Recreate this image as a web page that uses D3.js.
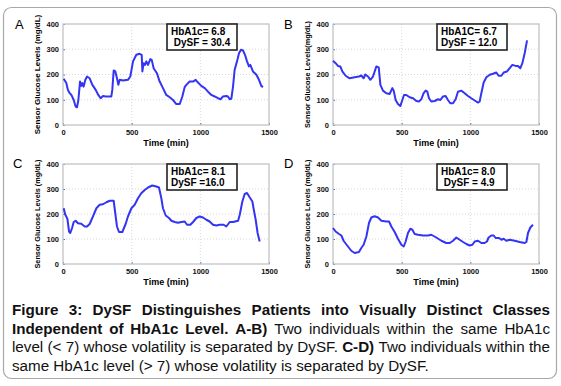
<!DOCTYPE html>
<html>
<head>
<meta charset="utf-8">
<script src="https://cdn.jsdelivr.net/npm/d3@7"></script>
<style>
  body { margin: 0; background: #fff; }
  svg { display: block; font-family: "Liberation Sans", Arial, sans-serif; }
  text { white-space: pre; }
</style>
</head>
<body>
<svg id="chart" width="561" height="386"></svg>
<script>
// glucose traces (time in min, glucose in mg/dL)
var timeA = [5, 24, 36, 49, 61, 78, 92, 102, 112, 124, 133, 141, 150, 163, 175, 194, 214, 238, 257, 274, 291, 311, 352, 359, 369, 381, 393, 403, 413, 437, 473, 490, 510, 534, 558, 573, 578, 587, 597, 607, 619, 636, 646, 660, 684, 704, 728, 752, 777, 801, 825, 850, 869, 886, 898, 922, 947, 966, 983, 1007, 1032, 1056, 1080, 1104, 1129, 1148, 1165, 1189, 1201, 1214, 1226, 1238, 1250, 1267, 1282, 1296, 1311, 1325, 1340, 1354, 1364, 1383, 1408, 1427, 1444, 1456];
var glucoseA = [183, 166, 139, 126, 119, 99, 73, 70, 99, 172, 155, 166, 152, 179, 192, 185, 159, 139, 119, 106, 115, 113, 113, 139, 216, 212, 185, 159, 179, 176, 179, 192, 252, 278, 282, 278, 212, 245, 238, 252, 238, 261, 258, 225, 205, 172, 146, 119, 110, 99, 83, 83, 113, 150, 159, 172, 172, 179, 168, 155, 146, 132, 119, 113, 106, 102, 113, 115, 113, 102, 105, 152, 219, 252, 285, 298, 295, 278, 252, 232, 238, 212, 199, 179, 155, 150];

var timeB = [0, 19, 36, 53, 68, 92, 121, 158, 189, 206, 223, 235, 255, 272, 291, 316, 333, 345, 364, 388, 413, 432, 442, 456, 473, 490, 505, 517, 534, 558, 583, 607, 626, 643, 660, 675, 687, 699, 716, 740, 765, 782, 801, 820, 837, 854, 874, 893, 910, 934, 959, 983, 1007, 1032, 1056, 1068, 1080, 1097, 1117, 1141, 1165, 1189, 1206, 1226, 1243, 1267, 1287, 1306, 1330, 1347, 1364, 1379, 1396, 1413];
var glucoseB = [254, 245, 234, 232, 212, 195, 185, 189, 192, 196, 185, 200, 192, 179, 192, 232, 228, 159, 136, 126, 123, 146, 136, 99, 83, 75, 99, 119, 119, 110, 106, 95, 93, 102, 126, 136, 132, 106, 93, 95, 102, 99, 113, 115, 99, 86, 86, 102, 132, 136, 126, 115, 106, 97, 89, 93, 126, 168, 189, 199, 203, 208, 195, 195, 208, 212, 225, 238, 234, 234, 225, 245, 285, 335];

var timeC = [5, 17, 32, 44, 53, 66, 78, 92, 109, 133, 158, 175, 194, 218, 243, 267, 291, 316, 340, 369, 379, 393, 408, 432, 456, 473, 498, 522, 546, 570, 595, 619, 650, 679, 699, 716, 728, 748, 772, 789, 813, 837, 862, 886, 903, 927, 947, 971, 995, 1019, 1044, 1068, 1092, 1117, 1141, 1170, 1189, 1214, 1238, 1275, 1287, 1306, 1323, 1340, 1359, 1379, 1388, 1403, 1417, 1432];
var glucoseC = [223, 197, 181, 130, 124, 144, 168, 173, 163, 161, 150, 150, 160, 190, 223, 237, 239, 247, 253, 253, 210, 150, 128, 128, 160, 190, 223, 237, 263, 283, 296, 306, 314, 310, 306, 263, 223, 194, 184, 173, 168, 165, 168, 170, 157, 157, 168, 184, 190, 186, 177, 170, 157, 154, 157, 157, 150, 168, 168, 173, 197, 250, 280, 284, 267, 250, 221, 177, 124, 90];

var timeD = [0, 19, 44, 61, 78, 109, 133, 158, 189, 206, 223, 243, 262, 279, 303, 328, 352, 388, 408, 425, 449, 473, 498, 515, 529, 546, 563, 578, 595, 619, 655, 692, 716, 752, 789, 825, 850, 874, 898, 922, 947, 971, 995, 1015, 1032, 1056, 1080, 1104, 1121, 1133, 1153, 1170, 1184, 1209, 1226, 1243, 1262, 1287, 1323, 1359, 1396, 1408, 1420, 1437, 1456];
var glucoseD = [144, 130, 120, 114, 92, 70, 53, 44, 48, 64, 77, 110, 164, 186, 191, 186, 173, 170, 170, 150, 128, 101, 77, 70, 90, 124, 141, 137, 120, 117, 114, 114, 117, 106, 93, 84, 84, 93, 106, 97, 88, 80, 74, 77, 90, 93, 84, 84, 90, 106, 114, 114, 104, 104, 97, 101, 93, 97, 93, 88, 84, 88, 124, 146, 157];

var legendA = ["HbA1c= 6.8", " DySF = 30.4"];
var legendB = ["HbA1C= 6.7", "DySF = 12.0"];
var legendC = ["HbA1c= 8.1", "DySF =16.0"];
var legendD = ["HbA1c= 8.0", " DySF = 4.9"];

var xTicks = [0, 500, 1000, 1500];
var yTicks = [0, 100, 200, 300, 400];

var captionLines = [
    [{ t: "Figure 3: DySF Distinguishes Patients into Visually Distinct Classes", b: true }],
    [{ t: "Independent of HbA1c Level. A-B)", b: true }, { t: "Two individuals within the same HbA1c", b: false }],
    [{ t: "level (< 7) whose volatility is separated by DySF.", b: false }, { t: "C-D)", b: true }, { t: "Two individuals within the", b: false }],
    [{ t: "same HbA1c level (> 7) whose volatility is separated by DySF.", b: false }]
];

var svg = d3.select("#chart");

// outer rounded box
svg.append("rect")
    .attr("x", 3.5).attr("y", 7.5)
    .attr("width", 553).attr("height", 371)
    .attr("rx", 8)
    .attr("fill", "#fff")
    .attr("stroke", "#a8a8a8")
    .attr("stroke-width", 1.2);

// panel layout
var panels = [
    { letter: "A", left: 63, top: 24, w: 206, h: 101, time: timeA, glucose: glucoseA, legend: legendA, ylabel: "Sensor Glucose Levels (mg/dL)", ysize: 8, lx: 15, ly: 29 },
    { letter: "B", left: 333, top: 24, w: 206, h: 101, time: timeB, glucose: glucoseB, legend: legendB, ylabel: "Sensor Glucose Levels(mg/dL)", ysize: 7.3, lx: 284, ly: 29 },
    { letter: "C", left: 63, top: 164, w: 206, h: 100, time: timeC, glucose: glucoseC, legend: legendC, ylabel: "Sensor Glucose Levels (mg/dL)", ysize: 7.3, lx: 13, ly: 168 },
    { letter: "D", left: 333, top: 164, w: 206, h: 100, time: timeD, glucose: glucoseD, legend: legendD, ylabel: "Sensor Glucose Levels (mg/dL)", ysize: 7.3, lx: 284, ly: 168 }
];

panels.forEach(function (p) {
    var x = d3.scaleLinear().domain([0, 1500]).range([p.left, p.left + p.w]);
    var y = d3.scaleLinear().domain([0, 400]).range([p.top + p.h, p.top]);
    var g = svg.append("g");

    // dotted grid
    g.selectAll(".vgrid").data(xTicks.slice(1, -1)).enter().append("line")
        .attr("x1", d => x(d)).attr("x2", d => x(d))
        .attr("y1", p.top).attr("y2", p.top + p.h)
        .attr("stroke", "#d8d8d8").attr("stroke-dasharray", "1,2");
    g.selectAll(".hgrid").data(yTicks.slice(1, -1)).enter().append("line")
        .attr("x1", p.left).attr("x2", p.left + p.w)
        .attr("y1", d => y(d)).attr("y2", d => y(d))
        .attr("stroke", "#d8d8d8").attr("stroke-dasharray", "1,2");

    // axes (labels + small inward ticks)
    var xa = g.append("g").attr("transform", "translate(0," + (p.top + p.h) + ")")
        .call(d3.axisBottom(x).tickValues(xTicks).tickSize(-2).tickPadding(5).tickFormat(d3.format("d")));
    var ya = g.append("g").attr("transform", "translate(" + p.left + ",0)")
        .call(d3.axisLeft(y).tickValues(yTicks).tickSize(-2).tickPadding(4).tickFormat(d3.format("d")));
    [xa, ya].forEach(function (a) {
        a.select(".domain").remove();
        a.selectAll(".tick line").attr("stroke", "#5566cc");
        a.selectAll(".tick text")
            .attr("font-family", "'Liberation Sans', Arial, sans-serif")
            .attr("font-size", 7.5).attr("font-weight", "bold").attr("fill", "#111");
    });

    // frame
    g.append("rect")
        .attr("x", p.left).attr("y", p.top)
        .attr("width", p.w).attr("height", p.h)
        .attr("fill", "none").attr("stroke", "#c4c4c4").attr("stroke-width", 1.3);

    // glucose line
    var pts = p.time.map((t, i) => [t, p.glucose[i]]);
    g.append("path")
        .datum(pts)
        .attr("d", d3.line().x(d => x(d[0])).y(d => y(d[1])))
        .attr("fill", "none")
        .attr("stroke", "#3434f4")
        .attr("stroke-width", 2)
        .attr("stroke-linejoin", "round");

    // axis titles
    g.append("text")
        .attr("x", p.left + p.w / 2).attr("y", p.top + p.h + 21)
        .attr("text-anchor", "middle")
        .attr("font-size", 9).attr("font-weight", "bold")
        .text("Time (min)");
    g.append("text")
        .attr("transform", "translate(" + (p.left - 23.5) + "," + (p.top + p.h / 2) + ") rotate(-90)")
        .attr("text-anchor", "middle")
        .attr("font-size", p.ysize).attr("font-weight", "bold")
        .text(p.ylabel);

    // panel letter
    g.append("text")
        .attr("x", p.lx).attr("y", p.ly)
        .attr("font-size", 13)
        .text(p.letter);

    // legend box
    var bx = p.left + 104, by = p.top;
    g.append("rect")
        .attr("x", bx).attr("y", by)
        .attr("width", 70).attr("height", 26)
        .attr("fill", "#fff").attr("stroke", "#222").attr("stroke-width", 1.6);
    g.selectAll(".leg").data(p.legend).enter().append("text")
        .attr("x", bx + 4).attr("y", (d, i) => by + 11.3 + i * 10.6)
        .attr("font-size", 10).attr("font-weight", "bold")
        .text(d => d);
});

// caption, justified like the source
var capSize = 15.2;
var cap = svg.append("g").attr("font-size", capSize).attr("fill", "#111");
var capLeft = 12, capRight = 550;
var capBase = [315, 333.7, 352.4, 371];

captionLines.forEach(function (line, li) {
    var words = [];
    line.forEach(function (s) {
        s.t.split(" ").filter(w => w.length).forEach(w => words.push({ w: w, b: s.b }));
    });
    var nodes = words.map(function (d) {
        return cap.append("text")
            .attr("y", capBase[li])
            .attr("font-weight", d.b ? "bold" : "normal")
            .text(d.w);
    });
    var widths = nodes.map(n => n.node().getComputedTextLength());
    var total = d3.sum(widths);
    var justify = li < captionLines.length - 1;
    var gap = justify ? (capRight - capLeft - total) / (words.length - 1) : capSize * 0.278;
    var cx = capLeft;
    nodes.forEach(function (n, i) {
        n.attr("x", cx);
        cx += widths[i] + gap;
    });
});
</script>
</body>
</html>
